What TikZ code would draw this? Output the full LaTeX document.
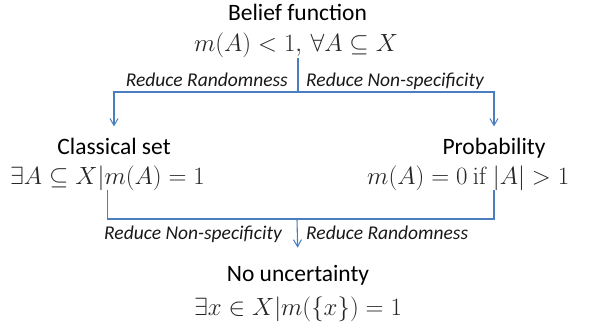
\documentclass[tikz,border=0pt]{standalone}
\usepackage[no-math]{fontspec}
\setmainfont{Carlito}
\usetikzlibrary{arrows.meta}
\definecolor{linkblue}{RGB}{74,126,190}

\begin{document}
\begin{tikzpicture}[x=1pt, y=-1pt,
    title/.style={font=\fontsize{23.5}{26}\selectfont, anchor=base, inner sep=0pt},
    formula/.style={font=\fontsize{24}{27}\selectfont, anchor=base, inner sep=0pt, text=black!85},
    reduce/.style={font=\fontsize{19.5}{21}\selectfont\itshape, inner sep=0pt, text=black!90},
    link/.style={line width=1.1pt, linkblue},
    flow/.style={link, -{Straight Barb[length=7pt, width=8pt, line width=1pt]}}]
\useasboundingbox (0,0) rectangle (599,326);
% states
\node[title] (belief) at (297.5,21) {Belief function};
\node[formula] (beliefeq) at (296,52) {$m(A)<1,\,\forall A\subseteq X$};
\node[title] (classical) at (114,154) {Classical set};
\node[formula] (classicaleq) at (107.5,184) {$\exists A\subseteq X|m(A)=1$};
\node[title] (prob) at (494,154) {Probability};
\node[formula, anchor=base west] (probeq) at (367,184) {$m(A)=0\ \mathrm{if}\ |A|>1$};
\node[title] (none) at (298,281) {No uncertainty};
\node[formula] (noneeq) at (298,315) {$\exists x\in X|m(\{x\})=1$};
% junctions
\coordinate (topsplit) at (298,92);
\coordinate (botjoin) at (297,219);
% top branches
\draw[link] (topsplit |- beliefeq.south) -- (topsplit);
\draw[flow, shorten >=11pt] (topsplit) -| (classical.north);
\draw[flow, shorten >=11pt] (topsplit) -| (prob.north);
% bottom branches
\draw[link] (classicaleq.south) |- (botjoin);
\draw[link] (prob |- probeq.south) |- (botjoin);
\draw[flow, shorten >=17pt] (botjoin) -- (none.north);
% labels
\node[reduce, anchor=base east] (lblrand) at (288,87) {Reduce Randomness};
\node[reduce, anchor=base west] (lblspec) at (306,87) {Reduce Non-specificity};
\node[reduce, anchor=base east] (lblspectwo) at (282,239) {Reduce Non-specificity};
\node[reduce, anchor=base west] (lblrandtwo) at (306,239) {Reduce Randomness};
\end{tikzpicture}
\end{document}
